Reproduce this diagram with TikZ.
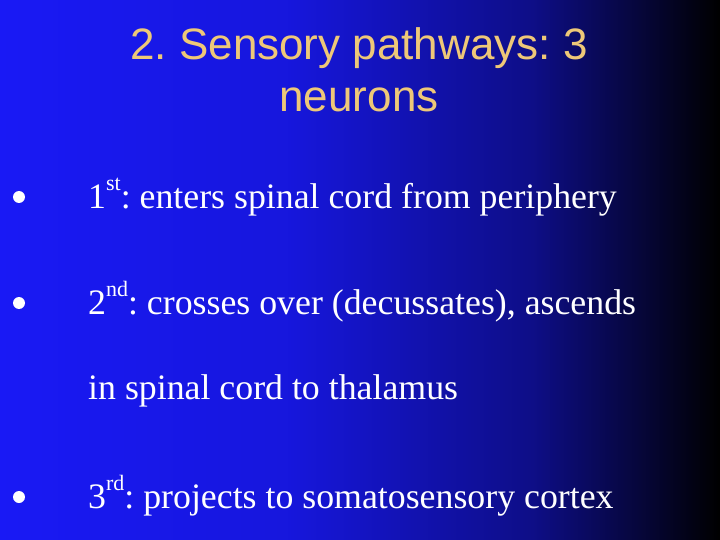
\documentclass[tikz,border=0pt]{standalone}
\usepackage{fontspec}
\setmainfont{Liberation Serif}
\newfontfamily\titlefont{Liberation Sans}
\definecolor{bgblue}{RGB}{25,25,245}
\definecolor{titlecol}{RGB}{238,200,120}
\pgfdeclarehorizontalshading{slidebg}{100bp}{color(0bp)=(bgblue); color(25bp)=(bgblue); color(45bp)=(bgblue!90!black); color(62bp)=(bgblue!55!black); color(75bp)=(black); color(100bp)=(black)}
\newcommand{\supx}[1]{\raisebox{0.5em}{\fontsize{22}{24}\selectfont #1}}
\begin{document}
\begin{tikzpicture}[x=1pt,y=-1pt,
  bodytext/.style={anchor=base west,text=white,font=\fontsize{35.8}{40}\selectfont,inner sep=0},
  bulletdot/.style={circle,fill=white,minimum size=12pt,inner sep=0}]
\shade[shading=slidebg] (0,0) rectangle (720,540);
\useasboundingbox (0,0) rectangle (720,540);
\node (t1) at (359,48) [text=titlecol,font=\titlefont\fontsize{44}{48}\selectfont] {2.\ Sensory pathways:\ 3};
\node (t2) at (359,100) [text=titlecol,font=\titlefont\fontsize{44}{48}\selectfont] {neurons};
\node[bulletdot] (b1) at (19,197) {};
\node[bodytext] (l1) at (88,208) {1\supx{st}:\ enters spinal cord from periphery};
\node[bulletdot] (b2) at (19,303) {};
\node[bodytext] (l2) at (88,314) {2\supx{nd}:\ crosses over (decussates), ascends};
\node[bodytext] (l3) at (88,399) {in spinal cord to thalamus};
\node[bulletdot] (b3) at (19,497) {};
\node[bodytext] (l4) at (88,508) {3\supx{rd}:\ projects to somatosensory cortex};
\end{tikzpicture}
\end{document}
